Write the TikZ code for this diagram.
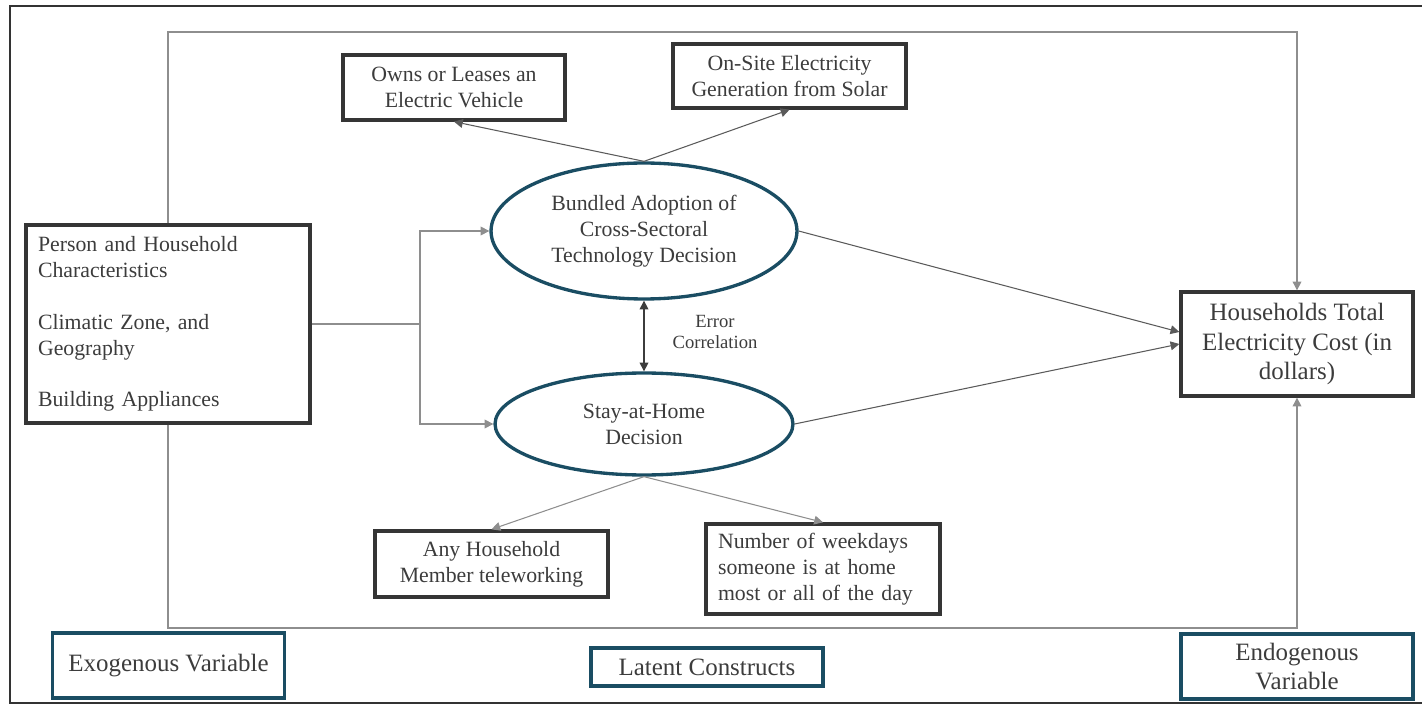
\documentclass[tikz,border=0pt]{standalone}
\usepackage{fontspec}
\setmainfont{Liberation Serif}
\usetikzlibrary{shapes.geometric,arrows.meta}
\definecolor{textgray}{HTML}{3C3C3C}
\definecolor{boxgray}{HTML}{353535}
\definecolor{linegray}{HTML}{8E8E8E}
\definecolor{darkline}{HTML}{5A5A5A}
\definecolor{latentblue}{HTML}{1A4D63}
\tikzset{
  varbox/.style={draw=boxgray, line width=1.9pt, text=textgray, align=center,
    inner sep=0pt, font=\fontsize{12.4}{14.7}\selectfont},
  latentvar/.style={ellipse, draw=latentblue, line width=1.9pt, text=textgray,
    align=center, inner sep=0pt, font=\fontsize{12.4}{14.7}\selectfont},
  legendbox/.style={draw=latentblue, line width=1.9pt, text=textgray, align=center,
    inner sep=0pt, minimum width=4.64cm, font=\fontsize{14.2}{17}\selectfont},
  link/.style={draw=linegray, line width=0.6pt, -{Triangle[length=5pt,width=5pt]}},
  darklink/.style={draw=darkline, line width=0.6pt, -{Triangle[length=5pt,width=5pt]}},
}
\begin{document}
\begin{tikzpicture}[x=0.02cm,y=-0.02cm]
\useasboundingbox (0,0) rectangle (1422,705);
% frame
\draw [black!80, line width=1pt] (1422,6) -- (10,6) -- (10,703) -- (1422,703);
% exogenous side
\node [varbox, minimum width=5.68cm, minimum height=3.96cm, inner xsep=0.24cm,
  text width=5.2cm, align=left] (exo) at (168,324)
  {Person and Household\\Characteristics\\[14.7pt]Climatic Zone, and\\Geography\\[14.7pt]Building Appliances};
% latent constructs
\node [latentvar, minimum width=6.12cm, minimum height=2.72cm] (bundled) at (644,231)
  {Bundled Adoption of\\Cross-Sectoral\\Technology Decision};
\node [latentvar, minimum width=5.96cm, minimum height=2.04cm] (stay) at (644,424)
  {Stay-at-Home\\Decision};
% indicators
\node [varbox, minimum width=4.44cm, minimum height=1.3cm] (owns) at (454,87.5)
  {Owns or Leases an\\Electric Vehicle};
\node [varbox, minimum width=4.66cm, minimum height=1.28cm] (onsite) at (789.5,76)
  {On-Site Electricity\\Generation from Solar};
\node [varbox, minimum width=4.66cm, minimum height=1.32cm] (anytele) at (491.5,564)
  {Any Household\\Member teleworking};
\node [varbox, minimum width=4.68cm, minimum height=1.8cm, inner xsep=0.24cm,
  text width=4.2cm, align=left] (weekdays) at (823,569)
  {Number of weekdays\\someone is at home\\most or all of the day};
% endogenous side
\node [varbox, minimum width=4.64cm, minimum height=2.08cm,
  font=\fontsize{14.2}{17}\selectfont] (cost) at (1297,344)
  {Households Total\\Electricity Cost (in\\dollars)};
% legend
\node [legendbox, minimum height=1.3cm] (exolegend) at (168.5,665.5) {Exogenous Variable};
\node [legendbox, minimum height=0.76cm] (latentlegend) at (707,667) {Latent Constructs};
\node [legendbox, minimum height=1.3cm] (endolegend) at (1297,666.5) {Endogenous\\Variable};
\node [text=textgray, align=center, font=\fontsize{10.6}{12.5}\selectfont] (errcorr) at (715,332)
  {Error\\Correlation};
% connectors
\coordinate (split) at (420,324);
\coordinate (toprow) at (168,32);
\coordinate (botrow) at (168,628);
\draw [linegray, line width=0.6pt] (exo.east) -- (split);
\draw [link] (split) |- (bundled.west);
\draw [link] (split) |- (stay.west);
\draw [link] (exo.north) -- (toprow) -| (cost.north);
\draw [link] (exo.south) -- (botrow) -| (cost.south);
\draw [darklink] (bundled.north) -- (owns.south);
\draw [darklink] (bundled.north) -- (onsite.south);
\draw [link] (stay.south) -- (anytele.north);
\draw [link] (stay.south) -- (weekdays.north);
\draw [darklink] (bundled.east) -- ([yshift=0.24cm]cost.west);
\draw [darklink] (stay.east) -- (cost.west);
\draw [draw=textgray, line width=0.7pt, {Triangle[length=5pt,width=5pt]}-{Triangle[length=5pt,width=5pt]}]
  (bundled.south) -- (stay.north);
\end{tikzpicture}
\end{document}
